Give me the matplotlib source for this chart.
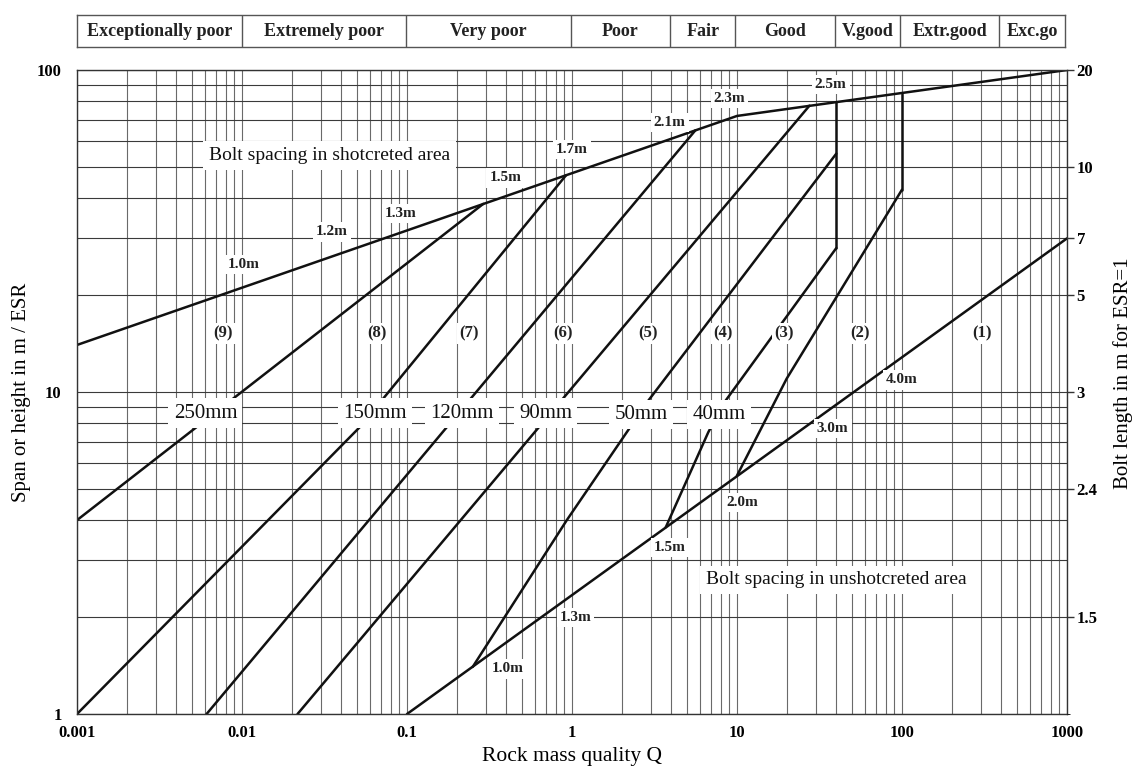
import numpy as np
import matplotlib.pyplot as plt
from matplotlib.ticker import LogLocator, NullFormatter

plt.rcParams['font.family'] = ['Liberation Serif', 'DejaVu Serif']

# rock mass classes along the Q axis
q_classes = ["Exceptionally poor", "Extremely poor", "Very poor", "Poor", "Fair",
             "Good", "V.good", "Extr.good", "Exc.go"]
q_bounds = [0.001, 0.01, 0.1, 1, 4, 10, 40, 100, 400, 1000]

# bolt spacing lines (Q, span/ESR)
shot_q = [0.001, 10, 1000]
shot_s = [14, 72, 100]
unshot_q = [0.1, 1000]
unshot_s = [1, 30]

# support category boundaries (Q, span/ESR)
cat_lines = [
    ([0.001, 0.29], [4, 38.4]),
    ([0.001, 0.052, 0.92], [1, 7.8, 47.1]),
    ([0.0061, 5.6], [1, 65]),
    ([0.0217, 27.5], [1, 77.5]),
    ([0.25, 0.93, 2.9, 40], [1.4, 4.0, 9.4, 55]),
    ([3.7, 6.7, 8.4, 40], [3.8, 7.5, 9.3, 28]),
    ([10, 20, 100], [5.5, 11, 42.5]),
    ([40, 40], [28, 79.5]),
    ([100, 100], [42.5, 84.5]),
]

# labels
top_sp_text = ["1.0m", "1.2m", "1.3m", "1.5m", "1.7m", "2.1m", "2.3m", "2.5m"]
top_sp_q = [0.0102, 0.035, 0.092, 0.394, 1.0, 3.9, 9.0, 37]
top_sp_s = [24.9, 31.4, 35.9, 46.2, 56.5, 68.8, 81.7, 90]

low_sp_text = ["1.0m", "1.3m", "1.5m", "2.0m", "3.0m", "4.0m"]
low_sp_q = [0.405, 1.05, 3.92, 10.8, 38, 100]
low_sp_s = [1.38, 2.0, 3.28, 4.53, 7.7, 10.9]

cat_text = ["(9)", "(8)", "(7)", "(6)", "(5)", "(4)", "(3)", "(2)", "(1)"]
cat_q = [0.0077, 0.066, 0.238, 0.88, 2.9, 8.2, 19.3, 56, 305]
cat_s = [15.2] * 9

thick_text = ["250mm", "150mm", "120mm", "90mm", "50mm", "40mm"]
thick_q = [0.006, 0.064, 0.215, 0.69, 2.62, 7.8]
thick_s = [8.6, 8.6, 8.6, 8.6, 8.5, 8.5]

x_ticks = [0.001, 0.01, 0.1, 1, 10, 100, 1000]
x_tick_labels = ["0.001", "0.01", "0.1", "1", "10", "100", "1000"]
y_ticks = [1, 10, 100]
y_tick_labels = ["1", "10", "100"]
bolt_span = [100, 50, 30, 20, 10, 5, 2]
bolt_len = ["20", "10", "7", "5", "3", "2.4", "1.5"]

fig = plt.figure(figsize=(11.34, 7.71), dpi=100)
ax = fig.add_axes([0.0679, 0.0739, 0.873, 0.8353])
ax.set_xscale('log')
ax.set_yscale('log')
ax.set_xlim(0.001, 1000)
ax.set_ylim(1, 100)

ax.xaxis.set_minor_locator(LogLocator(base=10, subs=np.arange(2, 10), numticks=100))
ax.yaxis.set_minor_locator(LogLocator(base=10, subs=np.arange(2, 10), numticks=100))
ax.xaxis.set_minor_formatter(NullFormatter())
ax.yaxis.set_minor_formatter(NullFormatter())
ax.set_xticks(x_ticks)
ax.set_xticklabels(x_tick_labels, fontweight='bold', fontsize=12)
ax.set_yticks(y_ticks)
ax.set_yticklabels(y_tick_labels, fontweight='bold', fontsize=12)
ax.tick_params(which='both', length=0)
ax.tick_params(axis='x', pad=8)
ax.tick_params(axis='y', pad=11)
ax.grid(which='both', axis='x', color='#6a6a6a', lw=0.8, zorder=0)
ax.grid(which='both', axis='y', color='#3a3a3a', lw=0.8, zorder=0)
for sp in ax.spines.values():
    sp.set_color('#333')
    sp.set_linewidth(1)

lk = dict(color='#111', lw=1.8, solid_capstyle='round', zorder=2)
ax.plot(shot_q, shot_s, **lk)
ax.plot(unshot_q, unshot_s, **lk)
for q, s in cat_lines:
    ax.plot(q, s, **lk)

box = dict(boxstyle='square,pad=0.2', fc='white', ec='none')
for t, q, s in zip(top_sp_text, top_sp_q, top_sp_s):
    ax.text(q, s, t, ha='center', va='center', fontsize=11, fontweight='bold',
            color='#222', bbox=box, zorder=3)
for t, q, s in zip(low_sp_text, low_sp_q, low_sp_s):
    ax.text(q, s, t, ha='center', va='center', fontsize=11, fontweight='bold',
            color='#222', bbox=box, zorder=3)
for t, q, s in zip(cat_text, cat_q, cat_s):
    ax.text(q, s, t, ha='center', va='center', fontsize=12, fontweight='bold',
            color='#222', bbox=dict(boxstyle='square,pad=0.15', fc='white', ec='none'), zorder=3)
for t, q, s in zip(thick_text, thick_q, thick_s):
    ax.text(q, s, t, ha='center', va='center', fontsize=15,
            color='#111', bbox=dict(boxstyle='square,pad=0.25', fc='white', ec='none'), zorder=3)

ax.text(0.034, 54.2, "Bolt spacing in shotcreted area", ha='center', va='center',
        fontsize=14, color='#111', bbox=dict(boxstyle='square,pad=0.3', fc='white', ec='none'), zorder=3)
ax.text(40, 2.61, "Bolt spacing in unshotcreted area", ha='center', va='center',
        fontsize=14, color='#111', bbox=dict(boxstyle='square,pad=0.3', fc='white', ec='none'), zorder=3)

# bolt length axis on the right
ax2 = ax.twinx()
ax2.set_yscale('log')
ax2.set_ylim(1, 100)
ax2.yaxis.set_minor_locator(LogLocator(base=10, subs=[], numticks=1))
ax2.yaxis.set_minor_formatter(NullFormatter())
ax2.set_yticks(bolt_span)
ax2.set_yticklabels(bolt_len, fontweight='bold', fontsize=12)
ax2.tick_params(axis='y', length=5, width=1, color='#333', pad=2)
for sp in ax2.spines.values():
    sp.set_visible(False)

fig.text(22 / 1134, 1 - 392 / 771, "Span or height in m / ESR", rotation=90,
         ha='center', va='center', fontsize=15)
fig.text(1123 / 1134, 1 - 373 / 771, "Bolt length in m for ESR=1", rotation=90,
         ha='center', va='center', fontsize=15)
fig.text(572 / 1134, 1 - 757 / 771, "Rock mass quality Q", ha='center', va='center',
         fontsize=15.5)

# class header bar
hax = fig.add_axes([0.0679, 0.939, 0.871, 0.0415])
hax.set_xscale('log')
hax.set_xlim(0.001, 1000)
hax.set_ylim(0, 1)
hax.set_xticks([])
hax.set_yticks([])
hax.minorticks_off()
for sp in hax.spines.values():
    sp.set_color('#555')
    sp.set_linewidth(1)
for b in q_bounds[1:-1]:
    hax.axvline(b, color='#555', lw=1)
for name, lo, hi in zip(q_classes, q_bounds[:-1], q_bounds[1:]):
    hax.text(np.sqrt(lo * hi), 0.5, name, ha='center', va='center', fontsize=13,
             fontweight='bold', color='#222')

fig.savefig('out.png', dpi=100)
